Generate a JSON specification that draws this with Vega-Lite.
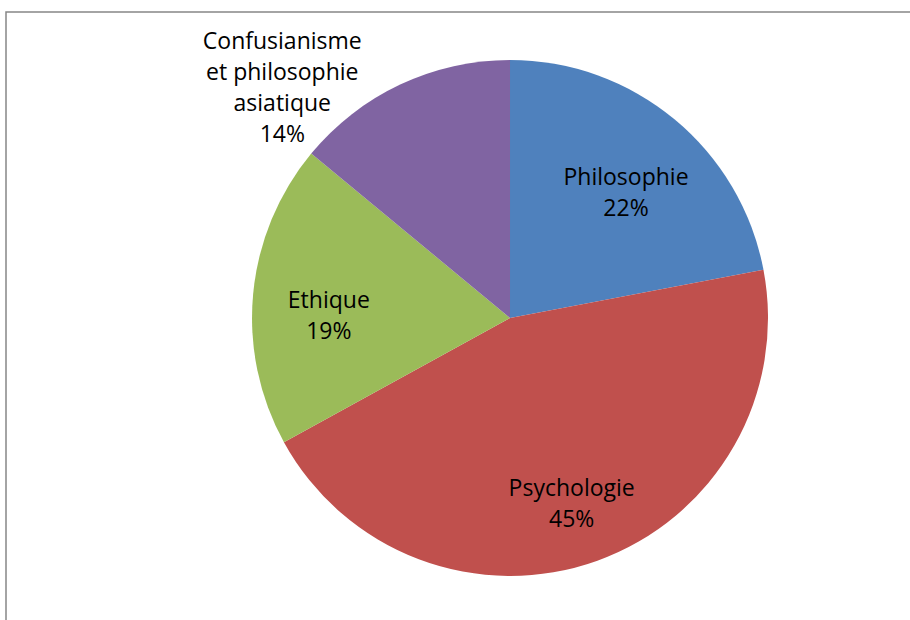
{
  "$schema": "https://vega.github.io/schema/vega-lite/v6.json",
  "width": 910,
  "height": 620,
  "autosize": {"type": "fit", "contains": "padding"},
  "padding": {"left": 6, "top": 12, "right": -3, "bottom": -3},
  "background": "white",
  "config": {
    "view": {"stroke": "#868686", "strokeWidth": 1.5},
    "font": "Open Sans"
  },
  "data": {
    "values": [
      {"categorie": "Philosophie", "part": 22, "rang": 1},
      {"categorie": "Psychologie", "part": 45, "rang": 2},
      {"categorie": "Ethique", "part": 19, "rang": 3},
      {"categorie": "Confusianisme\net philosophie\nasiatique", "part": 14, "rang": 4}
    ]
  },
  "transform": [
    {"stack": "part", "groupby": [], "sort": [{"field": "rang"}], "as": ["debut", "fin"]},
    {"calculate": "(datum.debut + datum.fin) / 2", "as": "milieu"},
    {"calculate": "datum.categorie + '\\n' + datum.part + '%'", "as": "etiquette"}
  ],
  "encoding": {
    "x": {"datum": 0.5557, "type": "quantitative", "scale": {"domain": [0, 1], "nice": false, "zero": false}, "axis": null},
    "y": {"datum": 0.4992, "type": "quantitative", "scale": {"domain": [0, 1], "nice": false, "zero": false}, "axis": null}
  },
  "layer": [
    {
      "mark": {"type": "arc", "outerRadius": 258},
      "encoding": {
        "theta": {"field": "debut", "type": "quantitative", "scale": {"domain": [0, 100]}},
        "theta2": {"field": "fin"},
        "color": {
          "field": "categorie",
          "type": "nominal",
          "scale": {
            "domain": ["Philosophie", "Psychologie", "Ethique", "Confusianisme\net philosophie\nasiatique"],
            "range": ["#4F81BD", "#C0504D", "#9BBB59", "#8064A2"]
          },
          "legend": null
        }
      }
    },
    {
      "transform": [{"filter": "datum.rang != 4"}],
      "mark": {"type": "text", "radius": 182, "fontSize": 23, "lineBreak": "\n", "lineHeight": 31, "color": "black", "align": "center", "baseline": "middle"},
      "encoding": {
        "theta": {"field": "milieu", "type": "quantitative"},
        "text": {"field": "etiquette"}
      }
    },
    {
      "transform": [{"filter": "datum.rang == 4"}],
      "mark": {"type": "text", "radius": 300, "dx": -100, "dy": -5, "fontSize": 23, "lineBreak": "\n", "lineHeight": 31, "color": "black", "align": "center", "baseline": "middle"},
      "encoding": {
        "theta": {"field": "milieu", "type": "quantitative"},
        "text": {"field": "etiquette"}
      }
    }
  ]
}
